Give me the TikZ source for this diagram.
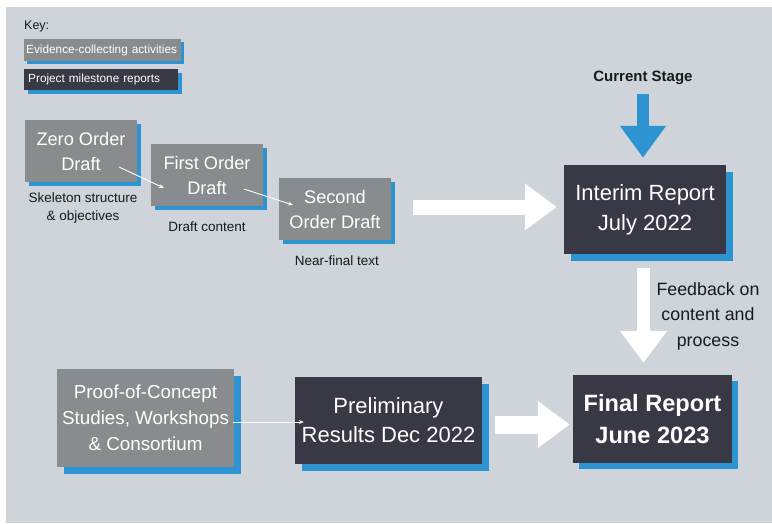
\documentclass[tikz,border=0pt]{standalone}
\usepackage{fontspec}
\setmainfont{Liberation Sans}
\definecolor{panelgray}{HTML}{CFD3DA}
\definecolor{evidgray}{HTML}{898C8F}
\definecolor{miledark}{HTML}{393845}
\definecolor{shadowblue}{HTML}{2E93D1}
\definecolor{inktext}{HTML}{1A1A1A}
\usetikzlibrary{arrows.meta, positioning, calc, shadows}

\tikzset{
  boxshadow/.style={drop shadow={shadow xshift=#1, shadow yshift=-#1, fill=shadowblue, opacity=1}},
  evidbox/.style={fill=evidgray, text=white, align=center, inner sep=0pt},
  milebox/.style={fill=miledark, text=white, align=center, inner sep=0pt},
  notetext/.style={text=inktext, align=center, font=\fontsize{13.5}{18}\selectfont},
  bigarrow/.style={draw=white, line width=#1, -{Triangle[length=32pt, width=45pt]}},
  thinarrow/.style={draw=white, line width=0.9pt, -{Stealth[length=5pt, width=4pt]}},
}

\begin{document}
\begin{tikzpicture}[x=1pt, y=-1pt]
  \useasboundingbox (0,0) rectangle (772,523);
  \fill[panelgray] (6,7) rectangle (772,523);

  % key
  \node[anchor=base west, text=inktext, inner sep=0pt, font=\fontsize{12.5}{15}\selectfont] (key) at (24,29) {Key:};
  \node[evidbox, boxshadow=3pt, anchor=west, align=left, text width=153pt, inner xsep=2pt, minimum height=22pt, font=\fontsize{11.8}{14}\selectfont] (keyevid) at (24,50) {Evidence-collecting activities};
  \node[milebox, boxshadow=4pt, anchor=west, align=left, text width=146pt, inner xsep=4pt, minimum height=21pt, font=\fontsize{11.8}{14}\selectfont] (keymile) at (24,79.5) {Project milestone reports};

  % drafts
  \node[evidbox, boxshadow=4pt, minimum width=112pt, minimum height=62pt, font=\fontsize{18.2}{25}\selectfont] (zero) at (81,151) {Zero Order\\Draft};
  \node[evidbox, boxshadow=4pt, minimum width=112pt, minimum height=62pt, font=\fontsize{18.2}{25}\selectfont] (first) at (207,175) {First Order\\Draft};
  \node[evidbox, boxshadow=4pt, minimum width=112pt, minimum height=62pt, font=\fontsize{18.2}{25}\selectfont] (second) at (335,209) {Second\\Order Draft};
  \node[notetext] (zerolbl) at (83,208) {Skeleton structure\\\& objectives};
  \node[notetext] (firstlbl) at (207,227) {Draft content};
  \node[notetext] (secondlbl) at (337,261) {Near-final text};
  \draw[thinarrow] ($(zero.center)+(38,16)$) -- ($(first.center)+(-43,13)$);
  \draw[thinarrow] ($(first.center)+(37,14)$) -- ($(second.center)+(-42,-4)$);

  % interim report
  \node[milebox, boxshadow=7pt, minimum width=162pt, minimum height=89pt, font=\fontsize{22}{30}\selectfont] (interim) at (645,209.5) {Interim Report\\July 2022};
  \node[text=inktext, font=\bfseries\fontsize{15}{18}\selectfont] (stage) at (643,78) {Current Stage};
  \draw[bigarrow=12pt, draw=shadowblue, -{Triangle[length=32pt, width=44pt]}] ($(stage.south)+(0,6)$) -- ($(stage.south |- interim.north)+(0,-7)$);
  \draw[bigarrow=15pt] ($(second.east)+(22,-2)$) -- ($(second.east -| interim.west)+(-7,-2)$);

  % bottom row
  \node[evidbox, boxshadow=7pt, minimum width=177pt, minimum height=98pt, font=\fontsize{18.8}{26}\selectfont] (proof) at (145.5,418) {Proof-of-Concept\\Studies, Workshops\\\& Consortium};
  \node[milebox, boxshadow=7pt, minimum width=187pt, minimum height=87pt, font=\fontsize{22}{29}\selectfont] (prelim) at (388.5,420) {Preliminary\\Results Dec 2022};
  \node[milebox, boxshadow=6pt, minimum width=159pt, minimum height=88pt, font=\bfseries\fontsize{23.6}{32}\selectfont] (final) at (652.5,419) {Final Report\\June 2023};
  \draw[thinarrow] ($(proof.east)+(-1,4)$) -- ($(prelim.west)+(9,2)$);
  \draw[bigarrow=18pt] ($(prelim.east)+(13,4.5)$) -- ($(prelim.east -| final.west)+(-3,4.5)$);

  % feedback
  \draw[bigarrow=13pt] ($(interim.south)+(-1.5,14)$) -- ($(interim.south |- final.north)+(-1.5,-12)$);
  \node[text=inktext, align=center, font=\fontsize{17.8}{25.5}\selectfont] (feedback) at (708,316) {Feedback on\\content and\\process};
\end{tikzpicture}
\end{document}
